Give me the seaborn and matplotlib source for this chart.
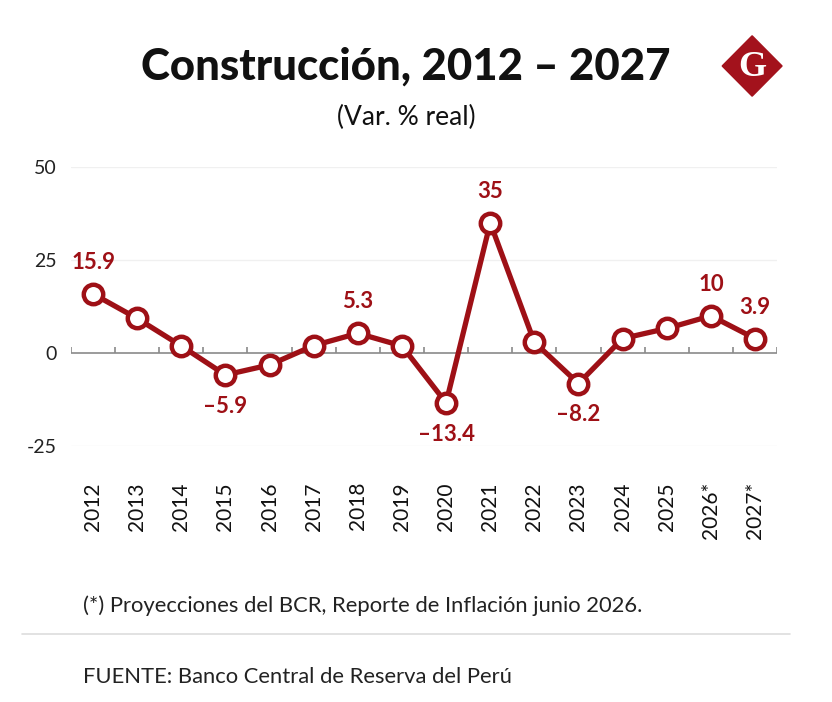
import numpy as np
import pandas as pd
import seaborn as sns
import matplotlib.pyplot as plt

# datos
years = ["2012", "2013", "2014", "2015", "2016", "2017", "2018", "2019",
         "2020", "2021", "2022", "2023", "2024", "2025", "2026*", "2027*"]
values = [15.9, 9.3, 1.9, -5.9, -3.2, 2.0, 5.3, 1.9,
          -13.4, 35, 2.9, -8.2, 3.9, 6.6, 10, 3.9]
labels_above = {"2012": "15.9", "2018": "5.3", "2021": "35", "2026*": "10", "2027*": "3.9"}
labels_below = {"2015": "-5.9", "2020": "-13.4", "2023": "-8.2"}
yticks = [-25, 0, 25, 50]

red = "#9e1016"
sns.set_theme(style="white")
plt.rcParams["font.family"] = ["Lato", "DejaVu Sans"]

df = pd.DataFrame({"pos": np.arange(len(years)), "val": values})

fig = plt.figure(figsize=(8.32, 7.02), dpi=100)
ax = fig.add_axes([0.0853, 0.3647, 0.8487, 0.3973])

for y in yticks:
    if y != 0:
        ax.axhline(y, color="#f0f0f0", lw=1, zorder=0)
ax.axhline(0, color="#8a8a8a", lw=1.2, zorder=1)
ax.vlines(np.arange(len(years) + 1) - 0.5, 0, 1.6, color="#8a8a8a", lw=1.2, zorder=1)

sns.lineplot(data=df, x="pos", y="val", ax=ax, color=red, lw=3.8,
             marker="o", markersize=14, markerfacecolor="white",
             markeredgecolor=red, markeredgewidth=3.2, zorder=3, clip_on=False)

for i, (yr, v) in enumerate(zip(years, values)):
    if yr in labels_above:
        ax.annotate(labels_above[yr].replace("-", "\u2013"), (i, v), xytext=(0, 15),
                    textcoords="offset points", ha="center", va="bottom",
                    color=red, fontsize=16, fontweight="bold")
    elif yr in labels_below:
        ax.annotate(labels_below[yr].replace("-", "\u2013"), (i, v), xytext=(0, -15),
                    textcoords="offset points", ha="center", va="top",
                    color=red, fontsize=16, fontweight="bold")

ax.set_xlim(-0.5, len(years) - 0.5)
ax.set_ylim(-25, 50)
ax.set_yticks(yticks)
ax.set_yticklabels([str(t) for t in yticks], fontsize=14, color="#222222")
ax.set_xticks(np.arange(len(years)))
ax.set_xticklabels(years, rotation=90, fontsize=15, color="#111111")
ax.tick_params(axis="x", length=0, pad=26)
ax.tick_params(axis="y", length=0, pad=10)
ax.set_xlabel("")
ax.set_ylabel("")
for s in ax.spines.values():
    s.set_visible(False)

fig.text(0.488, 0.905, "Construcción, 2012 \u2013 2027", ha="center", va="center",
         fontsize=31.5, fontweight="black", color="#111111")
fig.text(0.488, 0.832, "(Var. % real)", ha="center", va="center",
         fontsize=19, color="#111111")

# logo
fig.patches.append(plt.Polygon([[0.904, 0.949], [0.940, 0.906], [0.904, 0.863], [0.868, 0.906]],
                               closed=True, transform=fig.transFigure, color="#a3121c"))
fig.text(0.904, 0.904, "G", ha="center", va="center", fontsize=26,
         fontweight="bold", color="white", family="Liberation Serif")

fig.text(0.1, 0.137, "(*) Proyecciones del BCR, Reporte de Inflación junio 2026.",
         ha="left", va="center", fontsize=15.8, color="#222222")
fig.add_artist(plt.Line2D([0.026, 0.95], [0.097, 0.097], transform=fig.transFigure,
                          color="#dddddd", lw=1.2))
fig.text(0.1, 0.036, "FUENTE: Banco Central de Reserva del Perú",
         ha="left", va="center", fontsize=15.8, color="#222222")

fig.savefig("out.png", dpi=100, facecolor="white")
